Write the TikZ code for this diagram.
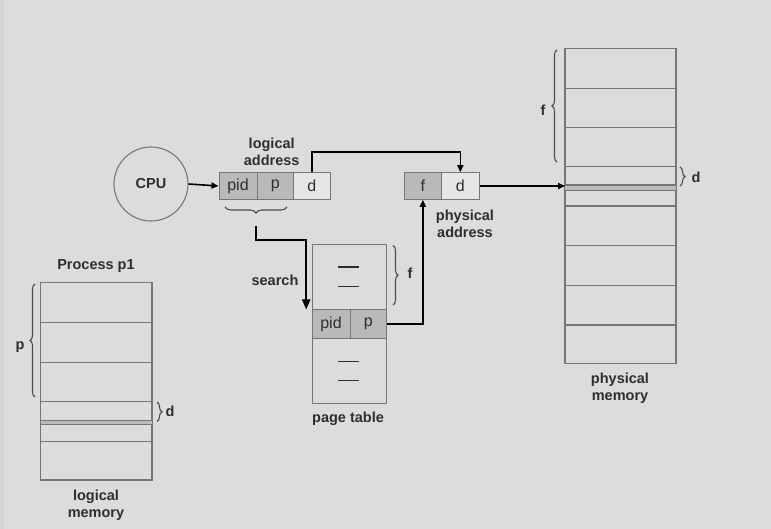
\documentclass[tikz,border=0pt]{standalone}
\usepackage{fontspec}
\setmainfont{Liberation Sans}
\usetikzlibrary{arrows.meta,decorations.pathreplacing,calc}
\definecolor{bg}{HTML}{DCDCDC}
\definecolor{strip}{HTML}{D2D4D8}
\definecolor{cellgray}{HTML}{B9B9B9}
\definecolor{celllight}{HTML}{E6E6E6}
\definecolor{ink}{HTML}{2E2E2E}
\definecolor{linegray}{HTML}{767676}
\definecolor{band}{HTML}{BBBBBB}
\tikzset{
  lbl/.style={text=ink,font=\fontsize{14.5}{17}\selectfont\bfseries,align=center,inner sep=0pt},
  cell/.style={draw=linegray,line width=1pt,minimum height=26.6pt,inner sep=0pt,text=ink,font=\fontsize{16}{18}\selectfont},
  gcell/.style={cell,fill=cellgray},
  lcell/.style={cell,fill=celllight},
  memline/.style={draw=linegray,line width=1.1pt},
  brc/.style={draw=ink!85,line width=1.1pt,decorate,decoration={brace,amplitude=5pt}},
  conn/.style={draw=black,line width=1.6pt,-{Triangle[length=7pt,width=6pt]}},
  bigconn/.style={draw=black,line width=2pt,-{Triangle[length=10pt,width=8pt]}},
  dashmark/.style={draw=ink,line width=1.2pt}
}
\begin{document}
\begin{tikzpicture}[x=1pt,y=-1pt]
\fill[bg] (0,0) rectangle (771,529);
\fill[strip] (0,0) rectangle (4,529);
\useasboundingbox (0,0) rectangle (771,529);

% CPU
\node[circle,draw=linegray,line width=1.1pt,minimum size=74pt,inner sep=0pt,lbl] (cpu) at (151,184) {CPU};

% logical address
\node[gcell,minimum width=38pt] (lapid) at (238,186) {pid};
\node[gcell,minimum width=36pt] (lap) at (275.3,186) {p};
\node[lcell,minimum width=37pt] (lad) at (311.7,186) {d};
\node[lbl] (lalbl) at (271.7,151.5) {logical\\address};

% physical address
\node[gcell,minimum width=37.7pt] (paf) at (422.85,186) {f};
\node[lcell,minimum width=37.3pt] (pad) at (460.35,186) {d};
\node[lbl] (palbl) at (465,224) {physical\\address};

% page table
\node[draw=linegray,line width=1pt,minimum width=74.7pt,minimum height=65pt,inner sep=0pt] (pttop) at (349.35,277.5) {};
\node[gcell,minimum width=38pt,minimum height=28.3pt] (ptpid) at (331,324.15) {pid};
\node[gcell,minimum width=36.7pt,minimum height=28.3pt] (ptp) at (368.35,324.15) {p};
\node[draw=linegray,line width=1pt,minimum width=74.7pt,minimum height=65pt,inner sep=0pt] (ptbot) at (349.35,370.8) {};
\draw[dashmark] (338,267) -- (359,267);
\draw[dashmark] (338,286.5) -- (359,286.5);
\draw[dashmark] (338,361.5) -- (359,361.5);
\draw[dashmark] (338,380.5) -- (359,380.5);
\node[lbl] (ptlbl) at (348,419) {page table};
\draw[brc] (393,245.5) -- (393,305);
\node[lbl] (ptf) at (410,273) {f};
\node[lbl] (search) at (275,280) {search};

% logical memory
\node[lbl] (proc) at (96,266) {Process p1};
\draw[memline] (40.7,282.7) rectangle (152,480);
\foreach \yy in {322.7,362.7,401.7,441.7} \draw[memline] (40.7,\yy) -- (152,\yy);
\fill[band] (40.7,420.7) rectangle (152,424.7);
\draw[memline] (40.7,420.7) -- (152,420.7);
\draw[memline] (40.7,424.7) -- (152,424.7);
\draw[brc] (35,397) -- (35,284);
\node[lbl] (lmp) at (20,347) {p};
\draw[brc] (157,402) -- (157,421.5);
\node[lbl] (lmd) at (170,411) {d};
\node[lbl] (lmlbl) at (96,505) {logical\\memory};

% physical memory
\draw[memline] (565,48.3) rectangle (676,363.3);
\foreach \yy in {88.2,127.7,166.8,206,245.6,285.6,325} \draw[memline] (565,\yy) -- (676,\yy);
\fill[band] (565,185) rectangle (676,190.7);
\draw[memline] (565,185) -- (676,185);
\draw[memline] (565,190.7) -- (676,190.7);
\draw[brc] (557,162) -- (557,50);
\node[lbl] (pmf) at (543,110) {f};
\draw[brc] (680,167) -- (680,186);
\node[lbl] (pmd) at (696,177) {d};
\node[lbl] (pmlbl) at (620,388) {physical\\memory};
\coordinate (pmin) at (565,186);

% brace under pid p
\draw[brc,decoration={brace,amplitude=6pt}] (287,207) -- (225,207);
\coordinate (brtip) at (256,226);
\coordinate (srchend) at ($(ptpid.north west)+(-5.3,0)$);

% connectors
\draw[conn] (cpu.east) -- (lapid.west);
\draw[conn] (lad.north) -- ++(0,-20) -| (pad.north);
\draw[conn] (pad.east) -- (pmin);
\draw[bigconn] (brtip) -- ++(0,14) -| (srchend);
\draw[conn] (ptp.east) -| (paf.south);
\end{tikzpicture}
\end{document}
